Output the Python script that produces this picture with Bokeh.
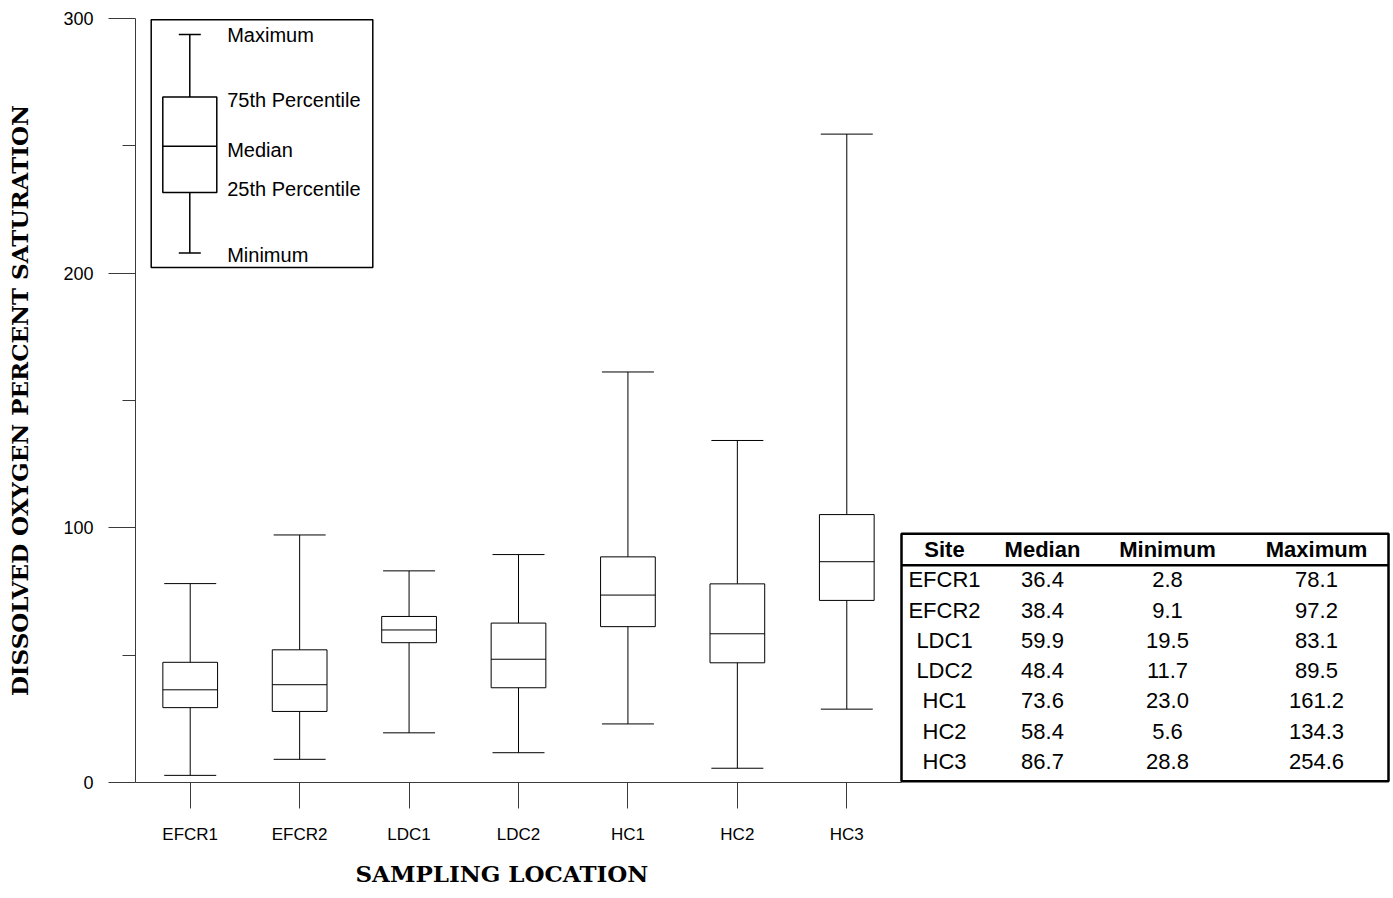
import numpy as np
from bokeh.plotting import figure
from bokeh.models import Range1d, FixedTicker, Title
from bokeh.embed import file_html
from bokeh.resources import INLINE
from bokeh.core.properties import value

# ---------------- data ----------------
sites = ["EFCR1", "EFCR2", "LDC1", "LDC2", "HC1", "HC2", "HC3"]
median = [36.4, 38.4, 59.9, 48.4, 73.6, 58.4, 86.7]
minimum = [2.8, 9.1, 19.5, 11.7, 23.0, 5.6, 28.8]
maximum = [78.1, 97.2, 83.1, 89.5, 161.2, 134.3, 254.6]
q1 = [29.4, 27.9, 54.9, 37.2, 61.2, 47.0, 71.5]
q3 = [47.2, 52.1, 65.2, 62.6, 88.6, 78.0, 105.2]
y_ticks = [0, 100, 200, 300]
y_minor_ticks = [50, 150, 250]
legend_labels = ["Maximum", "75th Percentile", "Median", "25th Percentile", "Minimum"]
table_header = ["Site", "Median", "Minimum", "Maximum"]
x_title = "SAMPLING LOCATION"
y_title = "DISSOLVED OXYGEN PERCENT SATURATION"

FONT = "Liberation Sans"
TITLE_FONT = "DejaVu Serif"
AX = "#3a3a3a"

# ---------------- layout (canvas pixels) ----------------
W, H = 1392, 897
L, T, R, B = 135, 18, 1390, 783          # frame edges
CAT_PX = 766 / 7.0
FW, FH = R - L, B - T

p = figure(width=W, height=H,
           min_border_left=L, min_border_right=W - R, min_border_top=T, min_border_bottom=H - B,
           x_range=Range1d(-0.5, -0.5 + FW / CAT_PX),
           y_range=Range1d(0, 300),
           output_backend="svg", toolbar_location=None)
p.outline_line_color = None
p.grid.visible = False

xs = np.arange(len(sites))
box_w = 0.5
cap_w = 0.475

# whiskers
p.segment(x0=xs, x1=xs, y0=minimum, y1=maximum, line_color="black", line_width=1)
p.segment(x0=xs - cap_w / 2, x1=xs + cap_w / 2, y0=minimum, y1=minimum, line_color="black", line_width=1)
p.segment(x0=xs - cap_w / 2, x1=xs + cap_w / 2, y0=maximum, y1=maximum, line_color="black", line_width=1)
# boxes
p.quad(left=xs - box_w / 2, right=xs + box_w / 2, bottom=q1, top=q3,
       fill_color="white", line_color="black", line_width=1)
p.segment(x0=xs - box_w / 2, x1=xs + box_w / 2, y0=median, y1=median, line_color="black", line_width=1)

# axes
p.xaxis.bounds = (-0.5, len(sites) - 0.5)
p.xaxis.ticker = FixedTicker(ticks=list(range(len(sites))))
p.xaxis.major_label_overrides = {i: s for i, s in enumerate(sites)}
p.xaxis.major_tick_out = 26
p.xaxis.major_tick_in = 0
p.xaxis.minor_tick_out = 0
p.xaxis.minor_tick_in = 0
p.xaxis.major_label_standoff = 16
p.xaxis.major_label_text_font_size = "17px"

p.yaxis.ticker = FixedTicker(ticks=y_ticks, minor_ticks=y_minor_ticks)
p.yaxis.major_tick_out = 27
p.yaxis.major_tick_in = 0
p.yaxis.minor_tick_out = 13
p.yaxis.minor_tick_in = 0
p.yaxis.major_label_standoff = 15
p.yaxis.major_label_text_font_size = "18px"
p.yaxis.axis_label = y_title
p.yaxis.axis_label_standoff = 27

for ax in (p.xaxis[0], p.yaxis[0]):
    ax.axis_line_color = AX
    ax.major_tick_line_color = AX
    ax.minor_tick_line_color = AX
    ax.major_label_text_font = FONT
    ax.major_label_text_color = "black"
    ax.axis_label_text_font = TITLE_FONT
    ax.axis_label_text_font_style = "bold"
    ax.axis_label_text_font_size = "23px"
    ax.axis_label_text_color = "black"

# x-axis title, placed under the category part of the axis
p.add_layout(Title(text=x_title, align="left", offset=220, standoff=22,
                   text_font=TITLE_FONT, text_font_style="bold",
                   text_font_size="23px", text_color="black"), "below")

# pixel coordinate ranges (value == canvas pixel)
p.extra_x_ranges = {"px": Range1d(L, R)}
p.extra_y_ranges = {"py": Range1d(B, T)}
kw = dict(x_range_name="px", y_range_name="py")

# legend key
p.quad(left=150.7, right=372.3, top=19.3, bottom=267.3, fill_color="white",
       line_color="black", line_width=1.5, **kw)
kx = 189.3
p.segment(x0=[kx], x1=[kx], y0=[34], y1=[252.7], line_color="black", line_width=1.5, **kw)
p.segment(x0=[kx - 11, kx - 11], x1=[kx + 11, kx + 11], y0=[34, 252.7], y1=[34, 252.7],
          line_color="black", line_width=1.5, **kw)
p.quad(left=kx - 27, right=kx + 27, top=96.7, bottom=192.3, fill_color="white",
       line_color="black", line_width=1.5, **kw)
p.segment(x0=[kx - 27], x1=[kx + 27], y0=[146], y1=[146], line_color="black", line_width=1.5, **kw)
p.text(x=[226.7] * len(legend_labels), y=[35, 100, 150, 189, 255], text=legend_labels,
       text_font=value(FONT), text_font_size="20px", text_color="black",
       text_align="left", text_baseline="middle", **kw)

# ---------------- summary table ----------------
tl, tr, tt, tb = 901, 1388, 534, 781.8
col_x = [944, 1042, 1167, 1316]
header_y = 550
row0, row_h = 580, 30.3
tkw = dict(level="overlay", **kw)
p.quad(left=tl, right=tr, top=tt, bottom=tb, fill_color="white", line_color="black",
       line_width=2.5, **tkw)
p.segment(x0=[tl], x1=[tr], y0=[565.5], y1=[565.5], line_color="black", line_width=2.5, **tkw)
p.text(x=col_x, y=[header_y] * 4, text=table_header, text_font=value(FONT),
       text_font_style="bold", text_font_size="22px", text_color="black",
       text_align="center", text_baseline="middle", **tkw)
ry = [row0 + row_h * i for i in range(len(sites))]
cols = [sites,
        [f"{v:.1f}" for v in median],
        [f"{v:.1f}" for v in minimum],
        [f"{v:.1f}" for v in maximum]]
for cx, col in zip(col_x, cols):
    p.text(x=[cx] * len(col), y=ry, text=col, text_font=value(FONT),
           text_font_size="22px", text_color="black",
           text_align="center", text_baseline="middle", **tkw)

open("out.html", "w").write(file_html(p, INLINE))
